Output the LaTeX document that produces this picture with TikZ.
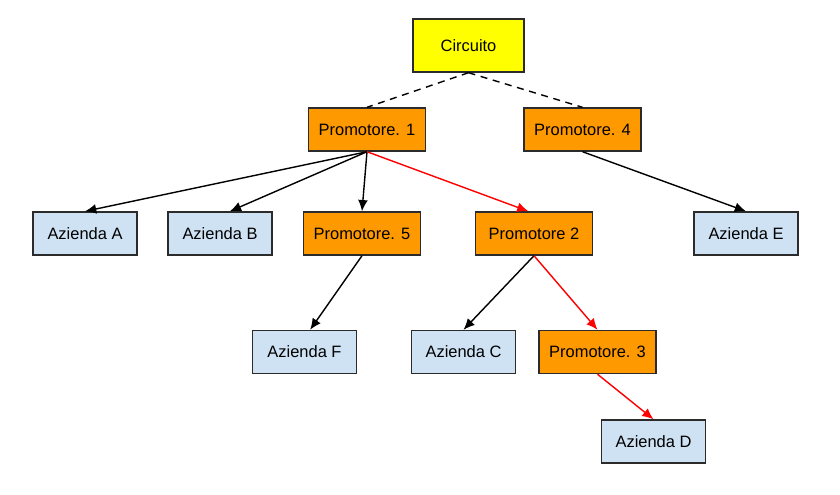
\documentclass[tikz,border=0pt]{standalone}
\usepackage{fontspec}
\setmainfont{Liberation Sans}
\usepackage{tikz}
\usetikzlibrary{arrows.meta}
\usepackage{xcolor}
\definecolor{rootyellow}{HTML}{FFFF00}
\definecolor{promorange}{HTML}{FF9900}
\definecolor{firmblue}{HTML}{CFE2F3}
\definecolor{boxline}{HTML}{2B2B2B}

\begin{document}
\begin{tikzpicture}[
  x=0.025cm, y=-0.025cm,
  box/.style={draw=boxline, line width=1pt, font=\fontsize{11.7}{14}\selectfont, anchor=center, inner sep=0pt},
  root/.style={box, fill=rootyellow, minimum width=2.775cm, minimum height=1.325cm},
  promoter/.style={box, fill=promorange, minimum width=2.925cm, minimum height=1.075cm},
  firm/.style={box, fill=firmblue, minimum width=2.6cm, minimum height=1.075cm},
  link/.style={-{Latex[length=8pt,width=7pt]}, line width=1pt, black},
  hot/.style={link, red},
  weak/.style={line width=1pt, dashed, dash pattern=on 5pt off 4pt},
]
\useasboundingbox (0,0) rectangle (840,494);

% Level 0
\node[root] (circ) at (468.5, 45.5) {Circuito};

% Level 1
\node[promoter] (p1) at (367, 129.5) {Promotore. 1};
\node[promoter] (p4) at (582.5, 129.5) {Promotore. 4};

% Level 2
\node[firm] (aA) at (85, 233.5) {Azienda A};
\node[firm] (aB) at (220, 233.5) {Azienda B};
\node[promoter] (p5) at (362, 233.5) {Promotore. 5};
\node[promoter] (p2) at (534, 233.5) {Promotore 2};
\node[firm] (aE) at (746, 233.5) {Azienda E};

% Level 3
\node[firm] (aF) at (304.5, 352) {Azienda F};
\node[firm] (aC) at (463.5, 352) {Azienda C};
\node[promoter] (p3) at (597.5, 352) {Promotore. 3};

% Level 4
\node[firm] (aD) at (653.5, 441.5) {Azienda D};

% Dashed links
\draw[weak] (circ.south) -- (p1.north);
\draw[weak] (circ.south) -- (p4.north);

% Arrows
\draw[link] (p1.south) -- (aA.north);
\draw[link] (p1.south) -- ([xshift=7]aB.north);
\draw[link] (p1.south) -- (p5.north);
\draw[hot] (p1.south) -- ([xshift=-4]p2.north);
\draw[link] (p4.south) -- (aE.north);
\draw[link] (p5.south) -- ([xshift=4]aF.north);
\draw[link] (p2.south) -- (aC.north);
\draw[hot] (p2.south) -- (p3.north);
\draw[hot] (p3.south) -- (aD.north);

\end{tikzpicture}
\end{document}
